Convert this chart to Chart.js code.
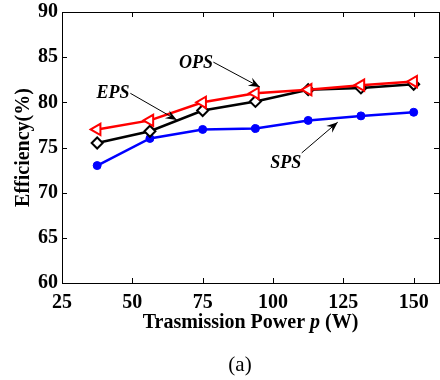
<!DOCTYPE html>
<html>
<head>
<meta charset="utf-8">
<script src="https://cdn.jsdelivr.net/npm/chart.js@4.4.0/dist/chart.umd.min.js"></script>
<style>
  html, body { margin: 0; padding: 0; background: #fff; overflow: hidden; }
  #wrap { width: 440px; height: 380px; }
</style>
</head>
<body>
<div id="wrap"><canvas id="eff-chart" width="440" height="380"></canvas></div>
<script>
// data
const power = [37.5, 56.25, 75, 93.75, 112.5, 131.25, 150];
const opsEff = [77.0, 78.0, 80.0, 81.0, 81.4, 81.9, 82.3];
const epsEff = [75.5, 76.8, 79.1, 80.1, 81.4, 81.6, 82.0];
const spsEff = [73.0, 76.0, 77.0, 77.1, 78.0, 78.5, 78.9];
const xTicks = [25, 50, 75, 100, 125, 150];
const yTicks = [60, 65, 70, 75, 80, 85, 90];

// label text + arrow (in data units)
const notes = [
  { text: 'OPS', at: [72.6, 84.35], from: [78.8, 84.45], to: [95.3, 81.7] },
  { text: 'EPS', at: [43.1, 81.0], from: [49.3, 81.0], to: [65.8, 78.05] },
  { text: 'SPS', at: [104.5, 73.3], from: [110.2, 74.4], to: [123.0, 77.8] }
];

const SERIF = '"Liberation Serif", "Times New Roman", serif';

const toXY = (xs, ys) => xs.map((x, i) => ({ x, y: ys[i] }));

// inward ticks on all four sides, notes, x title and caption
const framePlugin = {
  id: 'frame',
  afterDraw(chart) {
    const { ctx, chartArea: a, scales } = chart;
    const sx = scales.x, sy = scales.y;
    ctx.save();
    ctx.strokeStyle = '#000';
    ctx.lineWidth = 1;
    ctx.strokeRect(a.left + 0.5, a.top + 0.5, a.right - a.left, a.bottom - a.top);
    ctx.beginPath();
    xTicks.forEach(v => {
      const px = Math.round(sx.getPixelForValue(v)) + 0.5;
      ctx.moveTo(px, a.bottom); ctx.lineTo(px, a.bottom - 5);
      ctx.moveTo(px, a.top); ctx.lineTo(px, a.top + 5);
    });
    yTicks.forEach(v => {
      const py = Math.round(sy.getPixelForValue(v)) + 0.5;
      ctx.moveTo(a.left, py); ctx.lineTo(a.left + 5, py);
      ctx.moveTo(a.right, py); ctx.lineTo(a.right - 5, py);
    });
    ctx.stroke();

    // annotations
    ctx.fillStyle = '#000';
    ctx.font = 'italic bold 18px ' + SERIF;
    ctx.textAlign = 'center';
    ctx.textBaseline = 'middle';
    notes.forEach(n => {
      ctx.fillText(n.text, sx.getPixelForValue(n.at[0]), sy.getPixelForValue(n.at[1]));
      const x1 = sx.getPixelForValue(n.from[0]), y1 = sy.getPixelForValue(n.from[1]);
      const x2 = sx.getPixelForValue(n.to[0]), y2 = sy.getPixelForValue(n.to[1]);
      ctx.beginPath();
      ctx.moveTo(x1, y1); ctx.lineTo(x2, y2);
      ctx.stroke();
      const ang = Math.atan2(y2 - y1, x2 - x1);
      const L = 12, W = 0.38;
      ctx.beginPath();
      ctx.moveTo(x2, y2);
      ctx.lineTo(x2 - L * Math.cos(ang - W), y2 - L * Math.sin(ang - W));
      ctx.lineTo(x2 - L * 0.6 * Math.cos(ang), y2 - L * 0.6 * Math.sin(ang));
      ctx.lineTo(x2 - L * Math.cos(ang + W), y2 - L * Math.sin(ang + W));
      ctx.closePath();
      ctx.fill();
    });

    // x axis title with italic p
    const cx = (a.left + a.right) / 2, ty = 323;
    const parts = [
      ['bold 20px ' + SERIF, 'Trasmission Power '],
      ['italic bold 20px ' + SERIF, 'p'],
      ['bold 20px ' + SERIF, ' (W)']
    ];
    let total = 0;
    parts.forEach(p => { ctx.font = p[0]; total += ctx.measureText(p[1]).width; });
    let x = cx - total / 2;
    ctx.textAlign = 'left';
    parts.forEach(p => { ctx.font = p[0]; ctx.fillText(p[1], x, ty); x += ctx.measureText(p[1]).width; });

    // caption
    ctx.font = '21px ' + SERIF;
    ctx.textAlign = 'center';
    ctx.fillText('(a)', 240, 365);
    ctx.restore();
  }
};

new Chart(document.getElementById('eff-chart'), {
  type: 'line',
  data: {
    datasets: [
      {
        label: 'OPS',
        data: toXY(power, opsEff),
        borderColor: '#ff0000',
        borderWidth: 2.5,
        pointStyle: 'triangle',
        rotation: -90,
        pointRadius: 6.5,
        pointBorderWidth: 2,
        pointBorderColor: '#ff0000',
        pointBackgroundColor: '#ffffff',
        tension: 0
      },
      {
        label: 'EPS',
        data: toXY(power, epsEff),
        borderColor: '#000000',
        borderWidth: 2.5,
        pointStyle: 'rectRot',
        pointRadius: 5.5,
        pointBorderWidth: 2,
        pointBorderColor: '#000000',
        pointBackgroundColor: '#ffffff',
        tension: 0
      },
      {
        label: 'SPS',
        data: toXY(power, spsEff),
        borderColor: '#0000ff',
        borderWidth: 2.5,
        pointStyle: 'circle',
        pointRadius: 4,
        pointBorderWidth: 1,
        pointBorderColor: '#0000ff',
        pointBackgroundColor: '#0000ff',
        tension: 0
      }
    ]
  },
  options: {
    responsive: false,
    animation: false,
    events: [],
    layout: { autoPadding: false, padding: { top: 12, right: 1, left: 0, bottom: 0 } },
    plugins: { legend: { display: false }, tooltip: { enabled: false } },
    scales: {
      x: {
        type: 'linear',
        min: 25,
        max: 159,
        afterFit: s => { s.height = 97; s.paddingLeft = 0; s.paddingRight = 0; },
        afterBuildTicks: s => { s.ticks = xTicks.map(v => ({ value: v })); },
        grid: { display: false, drawTicks: false },
        border: { display: false },
        ticks: { color: '#000', padding: 8, font: { family: SERIF, size: 20, weight: 'bold' }, maxRotation: 0 }
      },
      y: {
        min: 60,
        max: 90,
        afterFit: s => { s.width = 62; s.paddingTop = 0; s.paddingBottom = 0; },
        afterBuildTicks: s => { s.ticks = yTicks.map(v => ({ value: v })); },
        grid: { display: false, drawTicks: false },
        border: { display: false },
        ticks: { color: '#000', padding: 4, font: { family: SERIF, size: 20, weight: 'bold' } },
        title: { display: true, text: 'Efficiency(%)', color: '#000', padding: { top: 12, bottom: 0 }, font: { family: SERIF, size: 20, weight: 'bold' } }
      }
    }
  },
  plugins: [framePlugin]
});
</script>
</body>
</html>
